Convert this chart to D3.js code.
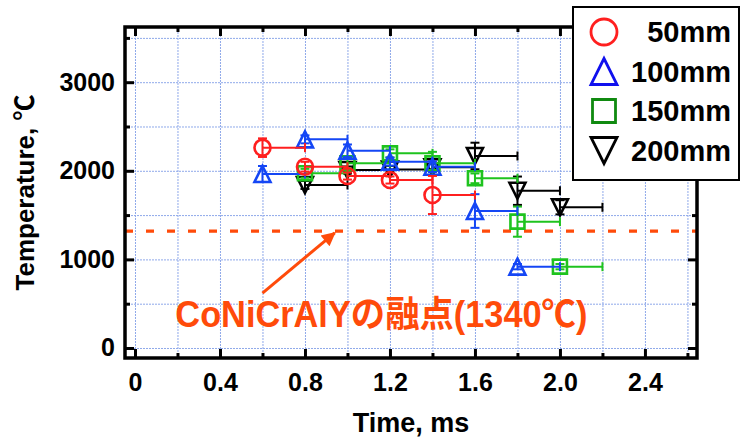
<!DOCTYPE html>
<html>
<head>
<meta charset="utf-8">
<script src="https://cdn.jsdelivr.net/npm/d3@7/dist/d3.min.js"></script>
<style>
body { margin: 0; background: #fff; }
svg { display: block; }
text { font-family: "Liberation Sans", Arial, "Noto Sans CJK JP", sans-serif; font-weight: bold; }
</style>
</head>
<body>
<svg id="svg1" width="741" height="438"></svg>
<script>
// data
var seriesNames = ['50mm', '100mm', '150mm', '200mm'];

var times50  = [0.6, 0.8, 1.0, 1.2, 1.4];
var temps50  = [2261, 2046, 1941, 1896, 1727];
var errs50   = [105, 55, 40, 40, 215];

var times100 = [0.6, 0.8, 1.0, 1.2, 1.4, 1.6, 1.8];
var temps100 = [1964, 2355, 2227, 2103, 2046, 1546, 918];
var errs100  = [90, 45, 70, 45, 60, 190, 30];

var times150 = [0.8, 1.0, 1.2, 1.4, 1.6, 1.8, 2.0];
var temps150 = [1972, 2084, 2197, 2084, 1915, 1426, 918];
var errs150  = [50, 60, 45, 130, 55, 170, 30];

var times200 = [0.8, 1.0, 1.2, 1.4, 1.6, 1.8, 2.0];
var temps200 = [1840, 2009, 2015, 2040, 2167, 1775, 1588];
var errs200  = [45, 40, 40, 40, 150, 160, 80];

var timeSpan = 0.2;          // horizontal bar length, ms
var meltingLine = 1320;      // where the dashed line is drawn
var noteText = 'CoNiCrAlYの融点(1340℃)';
var arrowFrom = [0.60, 620];
var arrowTo = [0.94, 1300];
var notePos = [0.19, 237];

var xMajor = [0, 0.4, 0.8, 1.2, 1.6, 2.0, 2.4];
var xMinor = [0.2, 0.6, 1.0, 1.4, 1.8, 2.2, 2.6];
var yMajor = [0, 1000, 2000, 3000];
var yMinor = [500, 1500, 2500, 3500];

var svg = d3.select('#svg1');

var pLeft = 125, pRight = 697, pTop = 27, pBottom = 358;

var x = d3.scaleLinear().domain([-0.047, 2.645]).range([pLeft, pRight]);
var y = d3.scaleLinear().domain([-113, 3623]).range([pBottom, pTop]);

var orange = '#ff4b0a';

// grid
var grid = svg.append('g').attr('class', 'grid');
grid.append('g')
    .attr('transform', 'translate(0,' + pBottom + ')')
    .call(d3.axisBottom(x).tickValues(xMajor.concat(xMinor)).tickSize(-(pBottom - pTop)).tickFormat(''));
grid.append('g')
    .attr('transform', 'translate(' + pLeft + ',0)')
    .call(d3.axisLeft(y).tickValues(yMajor.concat(yMinor)).tickSize(-(pRight - pLeft)).tickFormat(''));
grid.selectAll('.domain').remove();
grid.selectAll('line')
    .attr('stroke', '#8fa9ea')
    .attr('stroke-width', 1)
    .attr('stroke-dasharray', '2,1');

// melting point line
svg.append('line')
    .attr('x1', pLeft).attr('x2', pRight)
    .attr('y1', y(meltingLine)).attr('y2', y(meltingLine))
    .attr('stroke', orange)
    .attr('stroke-width', 3.2)
    .attr('stroke-dasharray', '8,13');

// series
var allSeries = [
    {name: seriesNames[3], t: times200, v: temps200, e: errs200, color: '#000000', shape: 'down'},
    {name: seriesNames[2], t: times150, v: temps150, e: errs150, color: '#1ec31e', shape: 'square'},
    {name: seriesNames[1], t: times100, v: temps100, e: errs100, color: '#1446f5', shape: 'up'},
    {name: seriesNames[0], t: times50,  v: temps50,  e: errs50,  color: '#ff1f1f', shape: 'circle'}
];

function shapePath(shape, s) {
    var h = s / 2;
    if (shape == 'up') return 'M0,' + (-h) + 'L' + h + ',' + h + 'L' + (-h) + ',' + h + 'Z';
    if (shape == 'down') return 'M0,' + h + 'L' + h + ',' + (-h) + 'L' + (-h) + ',' + (-h) + 'Z';
    if (shape == 'square') return 'M' + (-h) + ',' + (-h) + 'H' + h + 'V' + h + 'H' + (-h) + 'Z';
    return 'M' + h + ',0A' + h + ',' + h + ' 0 1,1 ' + (-h) + ',0A' + h + ',' + h + ' 0 1,1 ' + h + ',0Z';
}

var cap = 4.5;
allSeries.forEach(function(s) {
    var pts = s.t.map(function(t, i) { return {t: t, v: s.v[i], e: s.e[i]}; });
    var g = svg.append('g').attr('stroke', s.color).attr('fill', 'none').attr('stroke-width', 2);

    var bars = g.selectAll('g.bar').data(pts).enter().append('g').attr('class', 'bar');
    // horizontal bar to the right with end cap
    bars.append('line')
        .attr('x1', function(d) { return x(d.t); })
        .attr('x2', function(d) { return x(d.t + timeSpan); })
        .attr('y1', function(d) { return y(d.v); })
        .attr('y2', function(d) { return y(d.v); });
    bars.append('line')
        .attr('x1', function(d) { return x(d.t + timeSpan); })
        .attr('x2', function(d) { return x(d.t + timeSpan); })
        .attr('y1', function(d) { return y(d.v) - cap; })
        .attr('y2', function(d) { return y(d.v) + cap; });
    // vertical error bar
    bars.append('line')
        .attr('x1', function(d) { return x(d.t); })
        .attr('x2', function(d) { return x(d.t); })
        .attr('y1', function(d) { return y(d.v - d.e); })
        .attr('y2', function(d) { return y(d.v + d.e); });
    [-1, 1].forEach(function(k) {
        bars.append('line')
            .attr('x1', function(d) { return x(d.t) - cap; })
            .attr('x2', function(d) { return x(d.t) + cap; })
            .attr('y1', function(d) { return y(d.v + k * d.e); })
            .attr('y2', function(d) { return y(d.v + k * d.e); });
    });

    g.selectAll('path.mark').data(pts).enter().append('path')
        .attr('class', 'mark')
        .attr('d', shapePath(s.shape, s.shape == 'square' ? 14 : 16))
        .attr('stroke-width', 2.6)
        .attr('transform', function(d) { return 'translate(' + x(d.t) + ',' + y(d.v) + ')'; });
});

// frame and ticks
svg.append('rect')
    .attr('x', pLeft).attr('y', pTop)
    .attr('width', pRight - pLeft).attr('height', pBottom - pTop)
    .attr('fill', 'none').attr('stroke', '#000').attr('stroke-width', 3.5);

function tickAxis(axis, pos, values, size) {
    var g = svg.append('g').attr('transform', pos).call(axis.tickValues(values).tickSize(-size).tickFormat(''));
    g.select('.domain').remove();
    g.selectAll('line').attr('stroke', '#000').attr('stroke-width', 3);
    return g;
}
tickAxis(d3.axisBottom(x), 'translate(0,' + pBottom + ')', xMajor, 9);
tickAxis(d3.axisBottom(x), 'translate(0,' + pBottom + ')', xMinor, 5);
tickAxis(d3.axisTop(x), 'translate(0,' + pTop + ')', xMajor, 9);
tickAxis(d3.axisTop(x), 'translate(0,' + pTop + ')', xMinor, 5);
tickAxis(d3.axisLeft(y), 'translate(' + pLeft + ',0)', yMajor, 9);
tickAxis(d3.axisLeft(y), 'translate(' + pLeft + ',0)', yMinor, 5);
tickAxis(d3.axisRight(y), 'translate(' + pRight + ',0)', yMajor, 9);
tickAxis(d3.axisRight(y), 'translate(' + pRight + ',0)', yMinor, 5);

// tick labels
var xLab = svg.append('g')
    .attr('transform', 'translate(0,' + pBottom + ')')
    .call(d3.axisBottom(x).tickValues(xMajor).tickSize(0).tickPadding(15)
        .tickFormat(function(d) { return d == 0 ? '0' : d.toFixed(1); }));
var yLab = svg.append('g')
    .attr('transform', 'translate(' + pLeft + ',0)')
    .call(d3.axisLeft(y).tickValues(yMajor).tickSize(0).tickPadding(10)
        .tickFormat(d3.format('d')));
[xLab, yLab].forEach(function(g) {
    g.select('.domain').remove();
    g.selectAll('text').attr('font-size', 25).attr('fill', '#000')
        .style('font-family', '"Liberation Sans", Arial, sans-serif');
});

// axis titles
svg.append('text')
    .attr('x', (pLeft + pRight) / 2).attr('y', 432)
    .attr('text-anchor', 'middle')
    .attr('font-size', 27)
    .text('Time, ms');
svg.append('text')
    .attr('transform', 'translate(34,' + ((pTop + pBottom) / 2) + ') rotate(-90)')
    .attr('text-anchor', 'middle')
    .attr('font-size', 26)
    .text('Temperature, ℃');

// annotation
svg.append('defs').append('marker')
    .attr('id', 'arrow')
    .attr('markerUnits', 'userSpaceOnUse')
    .attr('viewBox', '0 0 10 10')
    .attr('refX', 9).attr('refY', 5)
    .attr('markerWidth', 18).attr('markerHeight', 14)
    .attr('orient', 'auto')
    .append('path').attr('d', 'M0,0L10,5L0,10Z').attr('fill', orange);
svg.append('line')
    .attr('x1', x(arrowFrom[0])).attr('y1', y(arrowFrom[1]))
    .attr('x2', x(arrowTo[0])).attr('y2', y(arrowTo[1]))
    .attr('stroke', orange).attr('stroke-width', 3)
    .attr('marker-end', 'url(#arrow)');
svg.append('text')
    .attr('x', x(notePos[0])).attr('y', y(notePos[1]))
    .attr('font-size', 36)
    .attr('fill', orange)
    .attr('textLength', 412)
    .attr('lengthAdjust', 'spacingAndGlyphs')
    .text(noteText);

// legend
var legendColors = ['#ff1f1f', '#1010ee', '#108a10', '#000000'];
var legendShapes = ['circle', 'up', 'square', 'down'];
var legend = svg.append('g');
legend.append('rect')
    .attr('x', 573).attr('y', 7).attr('width', 166).attr('height', 173)
    .attr('fill', '#fff').attr('stroke', '#000').attr('stroke-width', 2);
var rows = legend.selectAll('g.row').data(seriesNames).enter().append('g')
    .attr('class', 'row')
    .attr('transform', function(d, i) { return 'translate(0,' + (32 + i * 39.5) + ')'; });
rows.append('path')
    .attr('d', function(d, i) { return shapePath(legendShapes[i], legendShapes[i] == 'square' ? 23 : 26); })
    .attr('transform', 'translate(604,0)')
    .attr('fill', 'none')
    .attr('stroke', function(d, i) { return legendColors[i]; })
    .attr('stroke-width', 2.8);
rows.append('text')
    .attr('x', 731).attr('y', 10)
    .attr('text-anchor', 'end')
    .attr('font-size', 29)
    .text(function(d) { return d; });
</script>
</body>
</html>
